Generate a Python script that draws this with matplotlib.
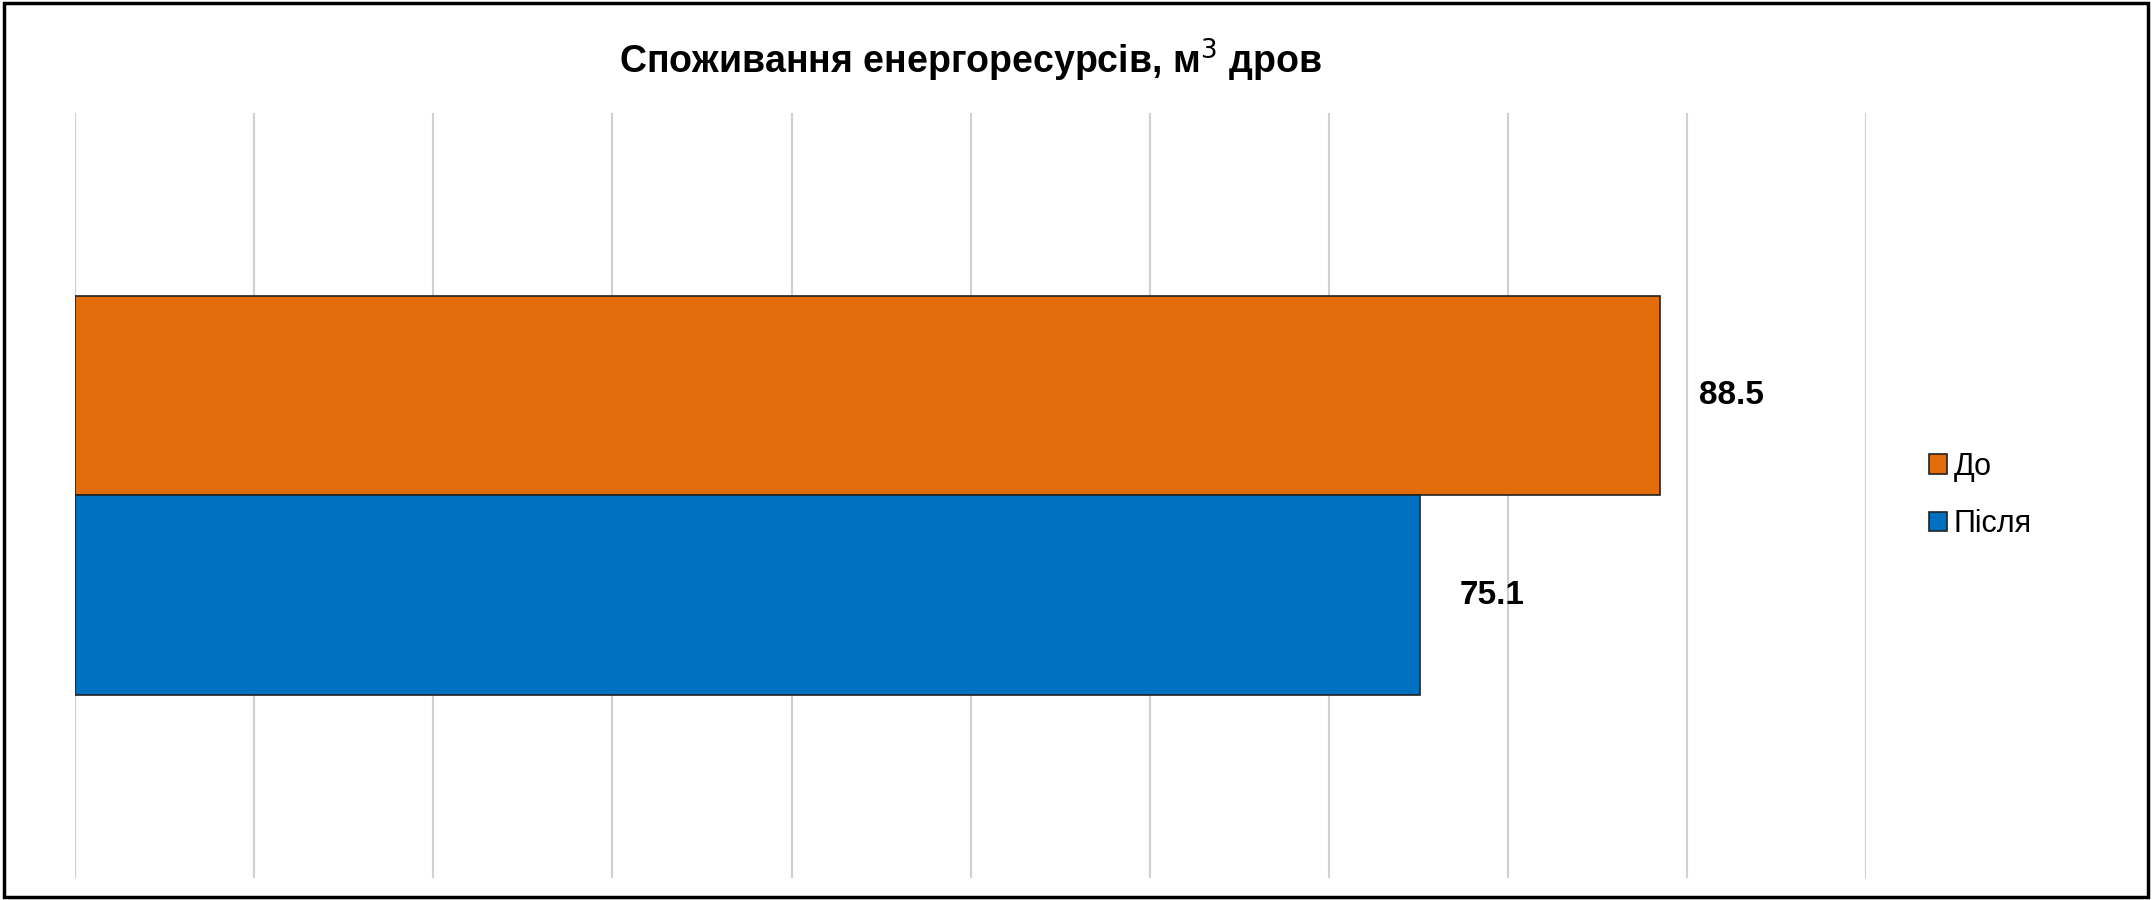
import matplotlib.pyplot as plt
from matplotlib.patches import Rectangle

plt.rcParams['font.family'] = ['Liberation Sans', 'DejaVu Sans']

series = ['До', 'Після']
values = [88.5, 75.1]
colors = ['#E36C0A', '#0070C0']
ypos = [0.5, -0.5]

fig = plt.figure(figsize=(21.52, 9.0), dpi=100)
ax = fig.add_axes([0.035, 0.024, 0.832, 0.851])

for y, v, c, s in zip(ypos, values, colors, series):
    ax.barh(y, v, height=1.0, color=c, edgecolor='#222222', linewidth=1.2, label=s, zorder=3)
    ax.text(v + 2.2, y, f'{v:.1f}', va='center', ha='left', fontsize=24, fontweight='bold')

ax.set_xlim(0, 100)
ax.set_ylim(-1.92, 1.92)
ax.set_xticks(range(0, 101, 10))
ax.grid(axis='x', color='#d0d0d0', linewidth=1.5, zorder=0)
ax.tick_params(length=0, labelbottom=False, labelleft=False)
for sp in ax.spines.values():
    sp.set_visible(False)

ax.set_title('Споживання енергоресурсів, м$^3$ дров', fontsize=27, fontweight='bold', pad=28)

leg = ax.legend(loc='center left', bbox_to_anchor=(1.02, 0.5), frameon=False,
                fontsize=22, handlelength=0.6, handleheight=0.6, handletextpad=0.2,
                labelspacing=0.9)

fig.patches.append(Rectangle((0.002, 0.003), 0.996, 0.994, transform=fig.transFigure,
                             fill=False, edgecolor='black', linewidth=2.5))

fig.savefig('out.png', dpi=100)
